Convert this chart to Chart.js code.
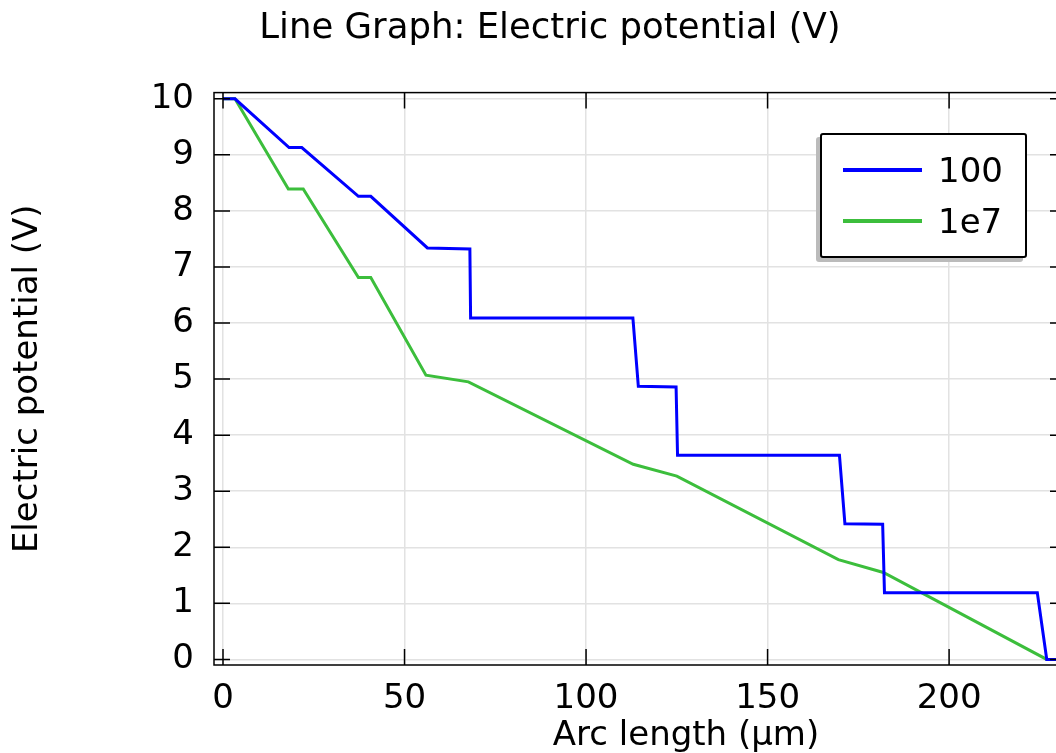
<!DOCTYPE html>
<html>
<head>
<meta charset="utf-8">
<script src="https://cdn.jsdelivr.net/npm/chart.js@4"></script>
<style>
  html, body { margin: 0; padding: 0; background: #fff; overflow: hidden; }
  #wrap { position: relative; width: 1100px; height: 753px; }
  #legend {
    position: absolute; left: 820px; top: 133px; width: 203px; height: 121px;
    border: 2px solid #000; border-radius: 3px; background: #fff;
    box-shadow: -4px 4px 0 #bbb;
    font-family: "DejaVu Sans", sans-serif; font-size: 34px; color: #000;
  }
  .row { position: absolute; left: 21px; height: 40px; display: flex; align-items: center; }
  .swatch { width: 79px; height: 4px; margin-right: 16px; }
</style>
</head>
<body>
<div id="wrap">
  <canvas id="myChart"></canvas>
  <div id="legend"></div>
</div>
<script>
// arc length (um) and potential (V)
const arc100 = [0, 3.3, 18.2, 21.7, 37.3, 40.7, 56.3, 68.0, 68.2, 112.9, 114.4, 124.8, 125.2, 169.8, 171.3, 181.7, 182.2, 224.3, 226.9, 234];
const pot100 = [10, 10, 9.13, 9.13, 8.26, 8.26, 7.34, 7.32, 6.09, 6.09, 4.87, 4.86, 3.64, 3.64, 2.42, 2.41, 1.19, 1.19, 0, 0];
const arc1e7 = [0, 3.3, 18.0, 22.1, 37.3, 40.7, 55.9, 67.6, 113.0, 125.0, 169.5, 181.9, 226.9, 234];
const pot1e7 = [10, 10, 8.39, 8.39, 6.81, 6.81, 5.07, 4.95, 3.48, 3.27, 1.78, 1.55, 0, 0];
const seriesLabels = ["100", "1e7"];
const seriesColors = ["#0000ff", "#3cbe3c"];

const FONT = "DejaVu Sans";

const toPoints = function (xs, ys) {
  return xs.map((x, i) => ({ x: x, y: ys[i] }));
};

// frame + inward ticks on all four sides, and the x axis title
const framePlugin = {
  id: "frame",
  afterDraw(chart) {
    const { ctx, chartArea: a, scales } = chart;
    ctx.save();
    ctx.strokeStyle = "#000";
    ctx.lineWidth = 1.5;
    ctx.strokeRect(a.left, a.top, a.right - a.left, a.bottom - a.top);
    ctx.beginPath();
    scales.x.ticks.forEach((t) => {
      const px = scales.x.getPixelForValue(t.value);
      ctx.moveTo(px, a.bottom);
      ctx.lineTo(px, a.bottom - 16);
      ctx.moveTo(px, a.top);
      ctx.lineTo(px, a.top + 16);
    });
    scales.y.ticks.forEach((t) => {
      const py = scales.y.getPixelForValue(t.value);
      ctx.moveTo(a.left, py);
      ctx.lineTo(a.left + 16, py);
      ctx.moveTo(a.right, py);
      ctx.lineTo(a.right - 16, py);
    });
    ctx.stroke();
    ctx.fillStyle = "#000";
    ctx.font = "34px '" + FONT + "'";
    ctx.textAlign = "center";
    ctx.textBaseline = "alphabetic";
    ctx.fillText("Arc length (\u00b5m)", 686, 745);
    ctx.restore();
  },
};

const ctx = document.getElementById("myChart");
new Chart(ctx, {
  type: "line",
  plugins: [framePlugin],
  data: {
    datasets: [
      {
        label: seriesLabels[0],
        data: toPoints(arc100, pot100),
        borderColor: seriesColors[0],
        borderWidth: 3,
        pointRadius: 0,
      },
      {
        label: seriesLabels[1],
        data: toPoints(arc1e7, pot1e7),
        borderColor: seriesColors[1],
        borderWidth: 3,
        pointRadius: 0,
      },
    ],
  },
  options: {
    responsive: true,
    maintainAspectRatio: false,
    animation: false,
    layout: { padding: { left: 34, right: 34, top: 0, bottom: 0 } },
    plugins: {
      legend: { display: false },
      tooltip: { enabled: false },
      title: {
        display: true,
        text: "Line Graph: Electric potential (V)",
        color: "#000",
        font: { family: FONT, size: 35.5, weight: "normal" },
        padding: { top: 7, bottom: 43 },
      },
    },
    scales: {
      x: {
        type: "linear",
        min: -2.48,
        max: 232.2,
        afterFit: (scale) => {
          scale.height = 88;
        },
        ticks: {
          stepSize: 50,
          includeBounds: false,
          color: "#000",
          padding: 14,
          maxRotation: 0,
          font: { family: FONT, size: 34 },
        },
        grid: { color: "#e2e2e2", lineWidth: 1.5, drawTicks: false },
        border: { display: false },
      },
      y: {
        min: -0.1,
        max: 10.11,
        afterFit: (scale) => {
          scale.width = 180;
        },
        ticks: {
          stepSize: 1,
          includeBounds: false,
          color: "#000",
          padding: 20,
          font: { family: FONT, size: 34 },
        },
        grid: { color: "#e2e2e2", lineWidth: 1.5, drawTicks: false },
        border: { display: false },
        title: {
          display: true,
          text: "Electric potential (V)",
          color: "#000",
          font: { family: FONT, size: 34 },
          padding: { top: -26, bottom: 0 },
        },
      },
    },
  },
});

// legend box built from the series
const legend = document.getElementById("legend");
seriesLabels.forEach((lab, i) => {
  const row = document.createElement("div");
  row.className = "row";
  row.style.top = (15 + i * 51) + "px";
  const sw = document.createElement("span");
  sw.className = "swatch";
  sw.style.background = seriesColors[i];
  const txt = document.createElement("span");
  txt.textContent = lab;
  row.appendChild(sw);
  row.appendChild(txt);
  legend.appendChild(row);
});
</script>
</body>
</html>
